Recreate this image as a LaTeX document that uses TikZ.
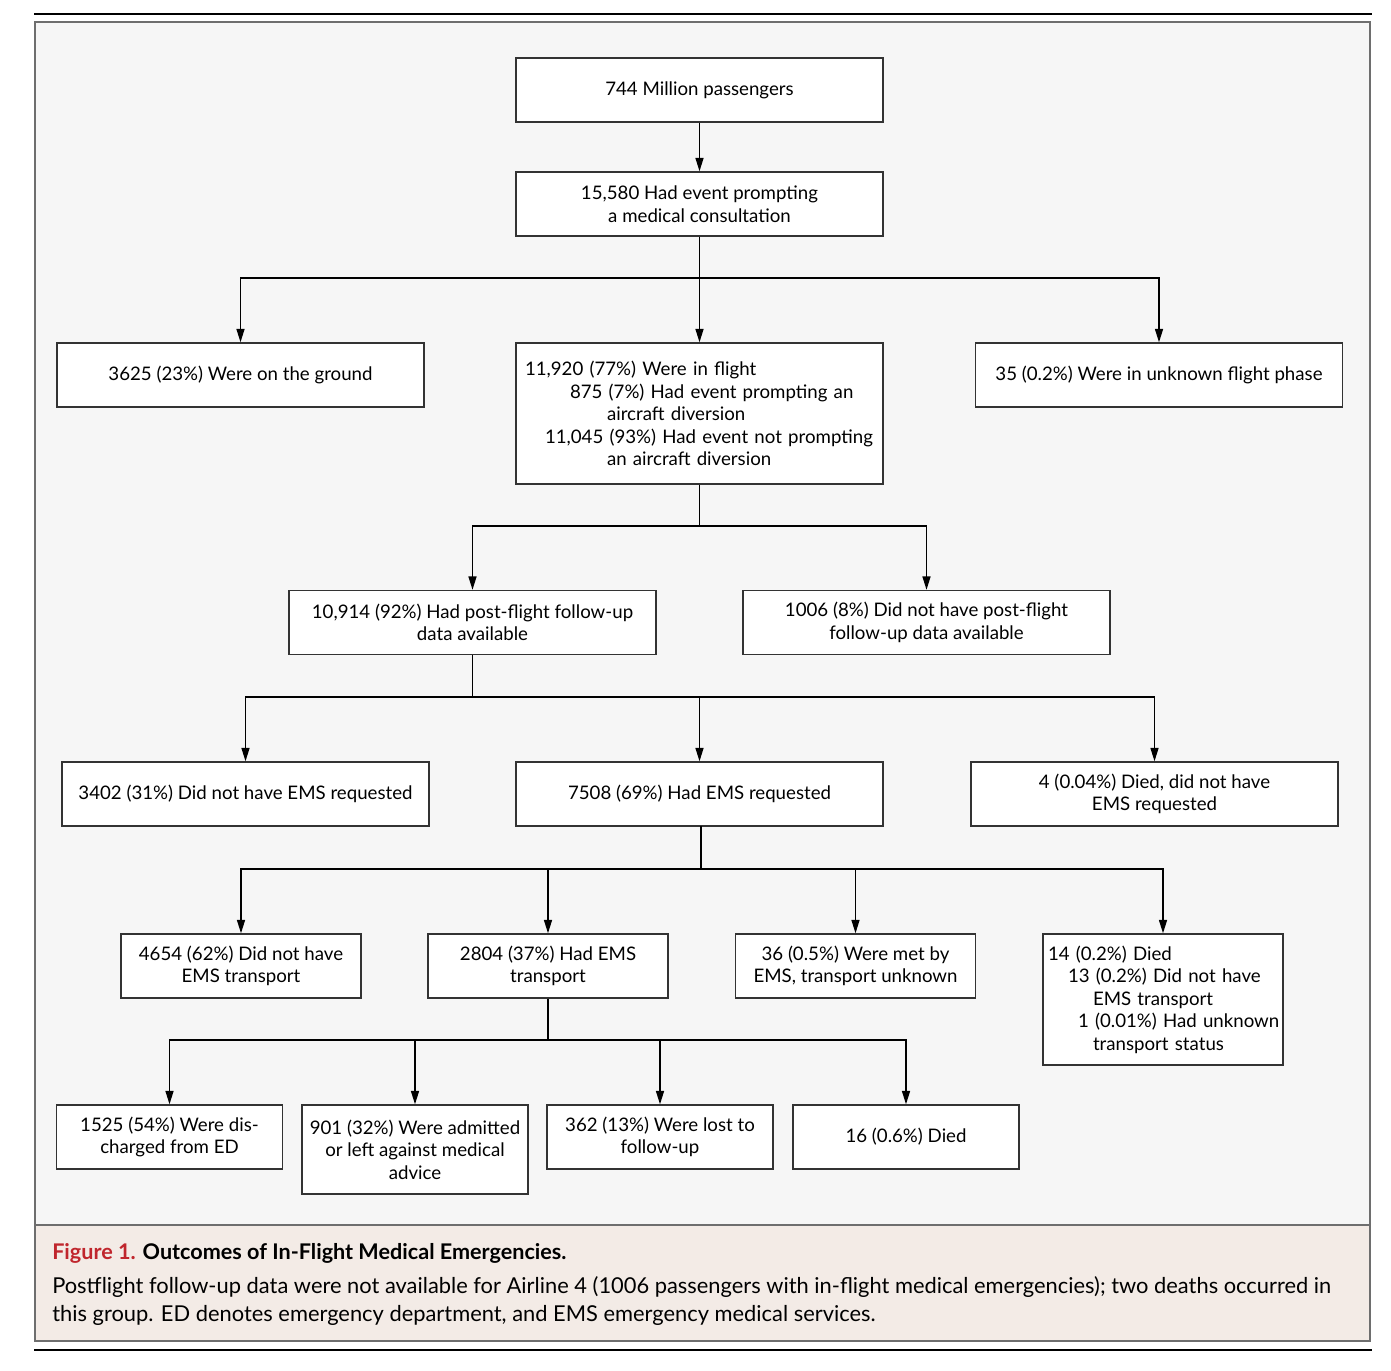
\documentclass[tikz,border=0pt]{standalone}
\usepackage{fontspec}
\setmainfont{Lato}
\usetikzlibrary{arrows.meta}
\definecolor{diagbg}{HTML}{F6F6F6}
\definecolor{capbg}{HTML}{F3EBE6}
\definecolor{framegray}{HTML}{6E6E6E}
\definecolor{boxline}{HTML}{333333}
\definecolor{figred}{HTML}{C0262D}
\begin{document}
\begin{tikzpicture}[x=0.75pt,y=-0.75pt,
  box/.style={draw=boxline, line width=1.1pt, fill=white, font=\fontsize{14}{16.9}\selectfont, align=center, inner sep=0pt},
  wbox/.style={box, minimum width=275.25pt, minimum height=48pt},
  mbox/.style={box, minimum width=180pt, minimum height=48pt},
  sbox/.style={box, minimum width=169.5pt, minimum height=48pt},
  conn/.style={line width=1pt, draw=black},
  arr/.style={conn, -{Triangle[length=10pt,width=6pt]}},
  captxt/.style={anchor=base west, inner sep=0pt, font=\fontsize{16.4}{21}\selectfont},
]
\useasboundingbox (0,0) rectangle (1391,1370);
\fill[white] (0,0) rectangle (1391,1370);
% frame and rules
\draw[line width=1.5pt] (34,14) -- (1372,14);
\draw[line width=1.5pt] (34,1350) -- (1372,1350);
\fill[diagbg] (35,22) rectangle (1370,1225);
\fill[capbg] (35,1225) rectangle (1370,1341);
\draw[framegray, line width=1.5pt] (35,1225) -- (1370,1225);
\draw[framegray, line width=2.2pt] (35,22) rectangle (1370,1341);

% boxes
\node[wbox] (pass) at (699.5,90) {744 Million passengers};
\node[wbox] (event) at (699.5,204) {15,580 Had event prompting\\a medical consultation};
\node[wbox] (ground) at (240.5,375) {3625 (23\%) Were on the ground};
\node[box, minimum width=275.25pt, minimum height=105.75pt, text width=261.75pt, inner xsep=6.75pt, align=left] (flight) at (699.5,413.5) {\mbox{11,920 (77\%) Were in flight}\\
\hspace*{33.75pt}\mbox{875 (7\%) Had event prompting an}\\
\hspace*{61.5pt}\mbox{aircraft diversion}\\
\hspace*{15pt}\mbox{11,045 (93\%) Had event not prompting}\\
\hspace*{61.5pt}\mbox{an aircraft diversion}};
\node[wbox] (unknown) at (1159,375) {35 (0.2\%) Were in unknown flight phase};
\node[wbox] (fu) at (472.5,622.5) {10,914 (92\%) Had post-flight follow-up\\data available};
\node[wbox] (nofu) at (926.5,622.5) {1006 (8\%) Did not have post-flight\\follow-up data available};
\node[wbox] (noems) at (245.5,794) {3402 (31\%) Did not have EMS requested};
\node[wbox] (ems) at (699.5,794) {7508 (69\%) Had EMS requested};
\node[wbox] (diednoems) at (1154.5,794) {4 (0.04\%) Died, did not have\\EMS requested};
\node[mbox] (notrans) at (241,966) {4654 (62\%) Did not have\\EMS transport};
\node[mbox] (trans) at (548,966) {2804 (37\%) Had EMS\\transport};
\node[mbox] (met) at (855.5,966) {36 (0.5\%) Were met by\\EMS, transport unknown};
\node[box, minimum width=180pt, minimum height=98.25pt, text width=172.5pt, inner xsep=3.75pt, align=left] (died14) at (1163,999.5) {\mbox{14 (0.2\%) Died}\\
\hspace*{15pt}\mbox{13 (0.2\%) Did not have}\\
\hspace*{33.75pt}\mbox{EMS transport}\\
\hspace*{22.5pt}\mbox{1 (0.01\%) Had unknown}\\
\hspace*{33.75pt}\mbox{transport status}};
\node[sbox] (disch) at (169.5,1137) {1525 (54\%) Were dis-\\charged from ED};
\node[sbox, minimum height=66.75pt] (admit) at (415,1149.5) {901 (32\%) Were admitted\\or left against medical\\advice};
\node[sbox] (lost) at (660,1137) {362 (13\%) Were lost to\\follow-up};
\node[sbox] (died16) at (906,1137) {16 (0.6\%) Died};

% connectors
\draw[arr] (pass) -- (event);
\coordinate (j1) at (699.5,278);
\draw[conn] (event) -- (j1);
\draw[arr] (j1) -| (ground.north);
\draw[arr] (j1) -- (flight.north);
\draw[arr] (j1) -| (unknown.north);

\coordinate (j2) at (699.5,526);
\draw[conn] (flight) -- (j2);
\draw[arr] (j2) -| (fu.north);
\draw[arr] (j2) -| (nofu.north);

\coordinate (j3) at (472.5,697);
\draw[conn] (fu) -- (j3);
\draw[arr] (j3) -| (noems.north);
\draw[arr] (j3) -| (ems.north);
\draw[arr] (j3) -| (diednoems.north);

\coordinate (j4a) at (701,826);
\coordinate (j4) at (701,869);
\draw[conn] (j4a) -- (j4);
\draw[arr] (j4) -| (notrans.north);
\draw[arr] (j4) -| (trans.north);
\draw[arr] (j4) -| (met.north);
\draw[arr] (j4) -| (died14.north);

\coordinate (j5) at (548,1040);
\draw[conn] (trans) -- (j5);
\draw[arr] (j5) -| (disch.north);
\draw[arr] (j5) -| (admit.north);
\draw[arr] (j5) -| (lost.north);
\draw[arr] (j5) -| (died16.north);

% caption
\node[captxt, font=\fontsize{16.2}{21}\selectfont\bfseries] (captitle) at (52,1259) {\textcolor{figred}{Figure 1.} Outcomes of In-Flight Medical Emergencies.};
\node[captxt] (cap1) at (52,1293) {Postflight follow-up data were not available for Airline 4 (1006 passengers with in-flight medical emergencies); two deaths occurred in};
\node[captxt] (cap2) at (52,1321) {this group. ED denotes emergency department, and EMS emergency medical services.};
\end{tikzpicture}
\end{document}
